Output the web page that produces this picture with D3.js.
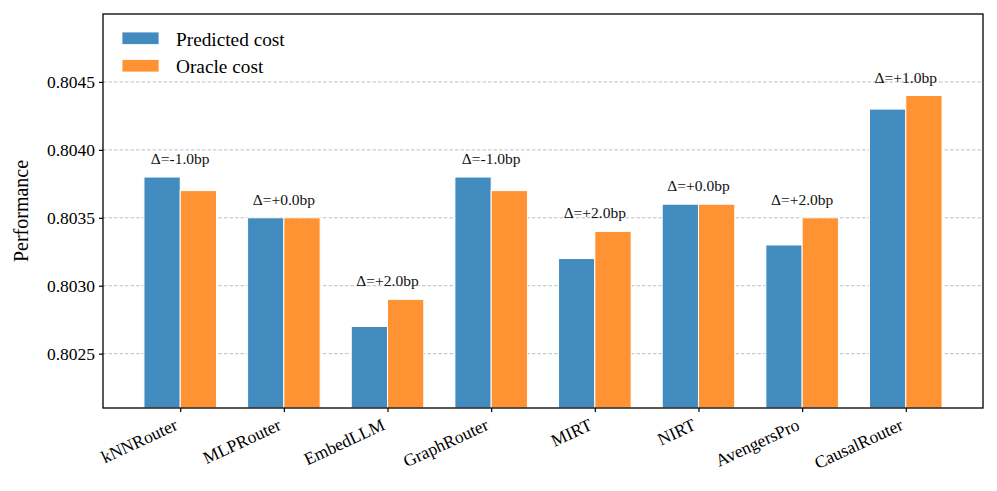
<!DOCTYPE html>
<html>
<head>
<meta charset="utf-8">
<script src="https://cdn.jsdelivr.net/npm/d3@7/dist/d3.min.js"></script>
<style>
  html, body { margin: 0; padding: 0; background: #fff; }
  svg { display: block; font-family: "Liberation Serif", "DejaVu Serif", serif; }
</style>
</head>
<body>
<svg id="chart" width="997" height="491"></svg>
<script>
const categories = ["kNNRouter", "MLPRouter", "EmbedLLM", "GraphRouter", "MIRT", "NIRT", "AvengersPro", "CausalRouter"];
const predictedCost = [0.8038, 0.8035, 0.8027, 0.8038, 0.8032, 0.8036, 0.8033, 0.8043];
const oracleCost    = [0.8037, 0.8035, 0.8029, 0.8037, 0.8034, 0.8036, 0.8035, 0.8044];
const yTicks = [0.8025, 0.8030, 0.8035, 0.8040, 0.8045];
const seriesNames = ["Predicted cost", "Oracle cost"];
const colors = ["#418bbf", "#ff9232"];

const svg = d3.select("#chart");
const L = 103, R = 983, T = 14, B = 408;
const barW = 0.35;

const x = d3.scaleLinear().domain([-0.745, categories.length - 1 + 0.745]).range([L, R]);
const y = d3.scaleLinear().domain([0.8021, 0.8050]).range([B, T]);

// grid
svg.append("g").selectAll("line").data(yTicks).join("line")
  .attr("x1", L).attr("x2", R)
  .attr("y1", d => y(d)).attr("y2", d => y(d))
  .attr("stroke", "#b8b8b8").attr("stroke-width", 0.9)
  .attr("stroke-dasharray", "3.5,2");

// bars
const series = [predictedCost, oracleCost];
series.forEach((vals, s) => {
  svg.append("g").selectAll("rect").data(vals).join("rect")
    .attr("x", (d, i) => x(i + (s === 0 ? -barW : 0)))
    .attr("width", x(barW) - x(0))
    .attr("y", d => y(d))
    .attr("height", d => B - y(d))
    .attr("fill", colors[s])
    .attr("stroke", "#ffffff").attr("stroke-width", 1);
});

// annotations
svg.append("g").selectAll("text").data(categories).join("text")
  .attr("x", (d, i) => x(i))
  .attr("y", (d, i) => y(Math.max(predictedCost[i], oracleCost[i])) - 13)
  .attr("text-anchor", "middle")
  .attr("font-size", 15.5)
  .attr("fill", "#111")
  .text((d, i) => {
    const v = Math.round((oracleCost[i] - predictedCost[i]) * 1e5) / 10;
    return "Δ=" + (v >= 0 ? "+" : "-") + Math.abs(v).toFixed(1) + "bp";
  });

// y axis
const yAxis = d3.axisLeft(y).tickValues(yTicks).tickFormat(d3.format(".4f")).tickSize(4).tickPadding(4);
const gy = svg.append("g").attr("transform", `translate(${L},0)`).call(yAxis);
gy.select(".domain").remove();
gy.selectAll("text").attr("font-size", 17.5).attr("font-family", "Liberation Serif").attr("fill", "#000");
gy.selectAll("line").attr("stroke", "#000").attr("stroke-width", 1.2);

// x axis
const xAxis = d3.axisBottom(x).tickValues(d3.range(categories.length)).tickFormat(i => categories[i]).tickSize(4).tickPadding(4);
const gx = svg.append("g").attr("transform", `translate(0,${B})`).call(xAxis);
gx.select(".domain").remove();
gx.selectAll("line").attr("stroke", "#000").attr("stroke-width", 1.2);
gx.selectAll("text")
  .attr("font-size", 17.5).attr("font-family", "Liberation Serif").attr("fill", "#000")
  .attr("text-anchor", "end")
  .attr("dy", null)
  .attr("y", 0)
  .attr("transform", "translate(-2,21) rotate(-25)");

// frame
svg.append("rect").attr("x", L).attr("y", T).attr("width", R - L).attr("height", B - T)
  .attr("fill", "none").attr("stroke", "#000").attr("stroke-width", 1.3);

// y label
svg.append("text")
  .attr("transform", `translate(28,${(T + B) / 2}) rotate(-90)`)
  .attr("text-anchor", "middle")
  .attr("font-size", 20)
  .text("Performance");

// legend
const lg = svg.append("g");
seriesNames.forEach((name, s) => {
  const yy = 32 + s * 27.5;
  lg.append("rect").attr("x", 122).attr("y", yy).attr("width", 37).attr("height", 12.5)
    .attr("fill", colors[s]).attr("stroke", "#fff").attr("stroke-width", 0.8);
  lg.append("text").attr("x", 176).attr("y", yy + 13.5).attr("font-size", 19.3).text(name);
});
</script>
</body>
</html>
